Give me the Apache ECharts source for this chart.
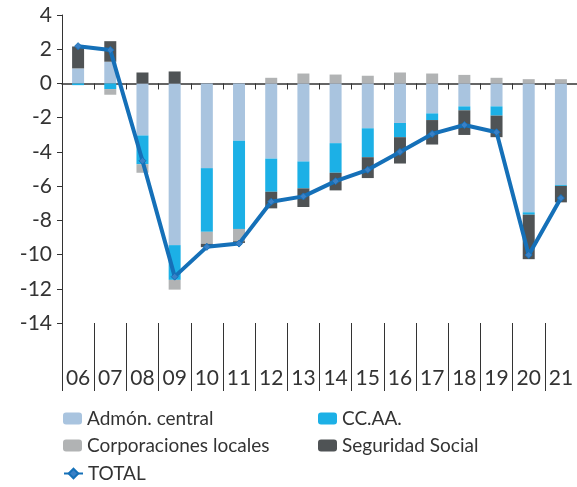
<!DOCTYPE html>
<html>
<head>
<meta charset="utf-8">
<script src="https://cdn.jsdelivr.net/npm/echarts@6/dist/echarts.min.js"></script>
<style>
    html, body {margin: 0; padding: 0; background: #fff;}
    #chart {width: 577px; height: 487px;}
</style>
</head>
<body>
<div id="chart"></div>
<script>
// años (eje X) y aportaciones por subsector
let years = ['06', '07', '08', '09', '10', '11', '12', '13', '14', '15', '16', '17', '18', '19', '20', '21'];
let admon = [0.88, 1.27, -3.04, -9.45, -4.95, -3.35, -4.39, -4.56, -3.49, -2.62, -2.31, -1.75, -1.34, -1.34, -7.53, -5.94];
let ccaa = [-0.1, -0.33, -1.68, -2.03, -3.72, -5.15, -1.94, -1.57, -1.73, -1.69, -0.83, -0.39, -0.23, -0.54, -0.14, -0.05];
let corp = [0, -0.33, -0.5, -0.57, -0.7, -0.72, 0.33, 0.58, 0.52, 0.45, 0.64, 0.58, 0.5, 0.33, 0.25, 0.25];
let segSocial = [1.28, 1.2, 0.64, 0.7, -0.2, -0.1, -0.97, -1.09, -1.03, -1.22, -1.54, -1.43, -1.44, -1.26, -2.6, -0.96];
let total = [2.18, 1.95, -4.52, -11.29, -9.55, -9.36, -6.91, -6.6, -5.71, -5.05, -4.0, -2.95, -2.43, -2.85, -10.02, -6.7];

let font = 'Lato';
let textColor = '#333';

function barSerie(name, data, color) {
    return {
        name: name,
        type: 'bar',
        stack: 'total',
        data: data,
        barWidth: 12,
        itemStyle: {color: color},
        emphasis: {disabled: true}
    };
}

// una leyenda por elemento para fijar su posición
function legendItem(name, left, top) {
    return {
        left: left, top: top,
        itemWidth: 19, itemHeight: 12,
        textStyle: {fontFamily: font, fontSize: 19, color: textColor},
        data: [name]
    };
}

let option = {
    animation: false,
    textStyle: {fontFamily: font},
    grid: {left: 62, top: 15, width: 519, height: 308},
    legend: [
        legendItem('Admón. central', 58, 404),
        legendItem('CC.AA.', 313, 404),
        legendItem('Corporaciones locales', 58, 431),
        legendItem('Seguridad Social', 313, 431),
        legendItem('TOTAL', 58, 459)
    ],
    xAxis: [
        {
            type: 'category',
            data: years,
            axisLine: {onZero: true, lineStyle: {color: textColor, width: 1.5}},
            axisTick: {show: true, interval: 0, length: 6, lineStyle: {color: textColor}},
            axisLabel: {show: false}
        },
        {
            type: 'category',
            data: years,
            position: 'bottom',
            axisLine: {show: false, onZero: false},
            axisTick: {show: true, interval: 0, length: 68, lineStyle: {color: textColor}},
            axisLabel: {interval: 0, margin: 45, fontSize: 21, color: textColor, fontFamily: font}
        }
    ],
    yAxis: {
        type: 'value',
        min: -14,
        max: 4,
        interval: 2,
        splitLine: {show: false},
        axisLine: {show: true, lineStyle: {color: textColor}},
        axisTick: {show: true, length: 5, lineStyle: {color: textColor}},
        axisLabel: {fontSize: 21, color: textColor, fontFamily: font, margin: 10}
    },
    series: [
        barSerie('Admón. central', admon, '#a9c4df'),
        barSerie('CC.AA.', ccaa, '#1cb0e6'),
        barSerie('Corporaciones locales', corp, '#b1b3b4'),
        barSerie('Seguridad Social', segSocial, '#4f5355'),
        {
            name: 'TOTAL',
            type: 'line',
            data: total,
            symbol: 'diamond',
            symbolSize: 7,
            lineStyle: {color: '#1570b8', width: 4},
            itemStyle: {color: '#3a80c6', borderColor: '#1570b8', borderWidth: 1},
            z: 5
        }
    ]
};

let myChart = echarts.init(document.getElementById('chart'), null, {renderer: 'canvas'});
myChart.setOption(option);
</script>
</body>
</html>
